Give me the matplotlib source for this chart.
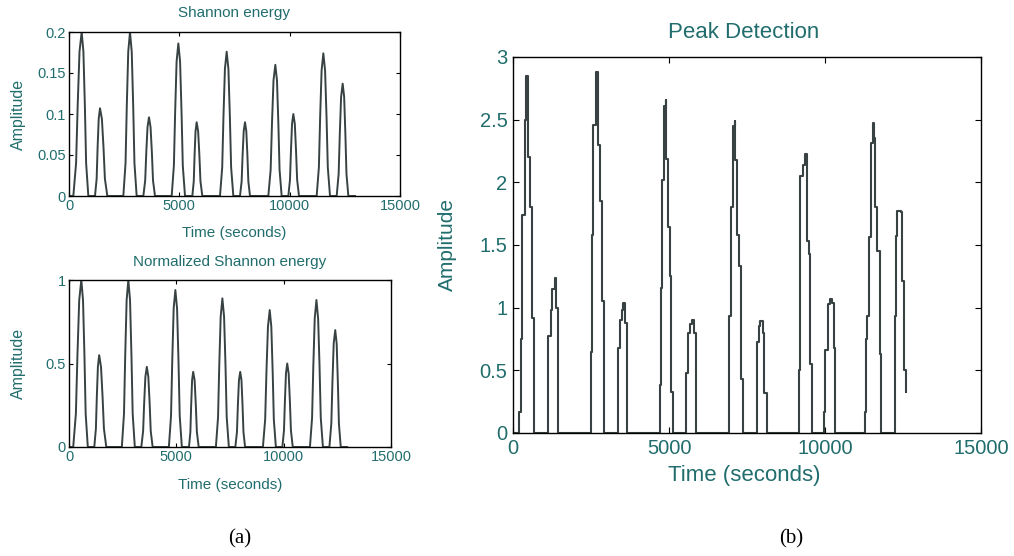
import matplotlib
matplotlib.use("Agg")
import matplotlib.pyplot as plt
from matplotlib.ticker import FormatStrFormatter

# Shannon energy envelope (left panels), one row per heart sound pulse
shannon_t = [0,
             196, 321, 393, 476, 574, 653, 719, 776, 876,
             1178, 1253, 1296, 1346, 1405, 1491, 1564, 1627, 1737,
             2462, 2562, 2619, 2685, 2764, 2843, 2909, 2966, 3066,
             3369, 3453, 3502, 3558, 3625, 3696, 3756, 3807, 3897,
             4653, 4753, 4810, 4876, 4955, 5034, 5100, 5157, 5257,
             5589, 5654, 5691, 5734, 5785, 5852, 5908, 5957, 6042,
             6843, 6943, 7000, 7066, 7145, 7224, 7290, 7347, 7447,
             7749, 7824, 7867, 7917, 7976, 8035, 8084, 8127, 8202,
             9033, 9138, 9198, 9268, 9350, 9425, 9488, 9542, 9637,
             9940, 10015, 10058, 10107, 10166, 10233, 10289, 10338, 10423,
             11224, 11324, 11381, 11447, 11526, 11605, 11671, 11728, 11828,
             12130, 12220, 12271, 12331, 12402, 12469, 12525, 12574, 12659,
             12961]
shannon_v = [0,
             0, .040, .110, .176, .200, .176, .110, .040, 0,
             0, .021, .059, .094, .107, .094, .059, .021, 0,
             0, .040, .110, .176, .200, .176, .110, .040, 0,
             0, .019, .053, .084, .096, .084, .053, .019, 0,
             0, .037, .102, .164, .186, .164, .102, .037, 0,
             0, .018, .050, .079, .090, .079, .050, .018, 0,
             0, .035, .097, .155, .176, .155, .097, .035, 0,
             0, .018, .050, .079, .090, .079, .050, .018, 0,
             0, .032, .088, .141, .160, .141, .088, .032, 0,
             0, .020, .055, .088, .100, .088, .055, .020, 0,
             0, .035, .096, .153, .174, .153, .096, .035, 0,
             0, .027, .075, .121, .137, .121, .075, .027, 0,
             0]
norm_v = [0,
          0, .20, .55, .88, 1.0, .88, .55, .20, 0,
          0, .11, .30, .48, .55, .48, .30, .11, 0,
          0, .20, .55, .88, 1.0, .88, .55, .20, 0,
          0, .096, .264, .42, .48, .42, .264, .096, 0,
          0, .188, .517, .83, .94, .83, .517, .188, 0,
          0, .09, .25, .40, .45, .40, .25, .09, 0,
          0, .178, .49, .78, .89, .78, .49, .178, 0,
          0, .09, .25, .40, .45, .40, .25, .09, 0,
          0, .164, .45, .72, .82, .72, .45, .164, 0,
          0, .10, .275, .44, .50, .44, .275, .10, 0,
          0, .176, .484, .77, .88, .77, .484, .176, 0,
          0, .14, .385, .62, .70, .62, .385, .14, 0,
          0]

# Peak detection staircase (right panel), value holds until the next time
peak_t = [0,
          192, 246, 299, 374, 427, 491, 544, 598, 673,
          1132, 1206, 1260, 1334, 1388, 1452,
          2487, 2520, 2573, 2648, 2722, 2786, 2861, 2914,
          3363, 3416, 3480, 3534, 3587, 3662,
          4697, 4730, 4761, 4836, 4890, 4911, 4964, 5018, 5050, 5124,
          5551, 5615, 5669, 5744, 5797, 5872,
          6939, 6993, 7046, 7100, 7131, 7185, 7238, 7323, 7366,
          7825, 7879, 7932, 8017, 8060, 8146,
          9160, 9190, 9213, 9299, 9373, 9427, 9480, 9533, 9587,
          9960, 10014, 10088, 10152, 10220, 10281, 10334,
          11274, 11320, 11348, 11423, 11476, 11530, 11562, 11615, 11669, 11754, 11800,
          12234, 12280, 12309, 12440, 12469, 12523, 12597]
peak_v = [0,
          .17, .75, 1.74, 2.5, 2.85, 2.2, 1.8, .92, 0,
          .77, .98, 1.15, 1.24, 1.0, 0,
          .65, 1.58, 2.46, 2.88, 2.3, 1.85, 1.05, 0,
          .68, .90, .98, 1.04, .88, 0,
          .38, 1.16, 2.02, 2.61, 2.66, 2.19, 1.64, 1.25, .33, 0,
          .48, .80, .87, .90, .80, 0,
          .93, 1.8, 2.45, 2.49, 2.18, 1.58, 1.33, .43, 0,
          .73, .85, .89, .80, .32, 0,
          .50, 1.36, 2.05, 2.14, 2.23, 1.53, 1.43, .55, 0,
          .17, .66, 1.03, 1.07, 1.04, .68, 0,
          .17, .75, .93, 1.56, 2.31, 2.47, 2.35, 1.8, 1.45, .63, 0,
          .93, 1.57, 1.77, 1.76, 1.21, .50, .33]

x_ticks = [0, 5000, 10000, 15000]

W, H = 1014, 556
TXT = '#216d6d'
LINE = '#384242'
plt.rcParams['font.family'] = ['Liberation Sans', 'DejaVu Sans']

fig = plt.figure(figsize=(W / 100, H / 100), dpi=100)


def box(x0, y0, x1, y1):
    return [x0 / W, 1 - y1 / H, (x1 - x0) / W, (y1 - y0) / H]


def label(x, y, s, size, rot=0, color=TXT, **kw):
    fig.text(x / W, 1 - y / H, s, ha='center', va='center', fontsize=size,
             rotation=rot, color=color, **kw)


def style(ax, size, ylim, yticks, lpad, tlen):
    ax.set_xlim(0, 15000)
    ax.set_ylim(*ylim)
    ax.set_xticks(x_ticks)
    ax.set_yticks(yticks)
    ax.xaxis.set_major_formatter(FormatStrFormatter('%g'))
    ax.yaxis.set_major_formatter(FormatStrFormatter('%g'))
    ax.tick_params(direction='in', top=True, right=True, length=tlen,
                   width=0.8, labelsize=size, labelcolor=TXT, pad=lpad)
    for s in ax.spines.values():
        s.set_linewidth(1.0)


ax1 = fig.add_axes(box(69, 32, 400, 196))
ax1.plot(shannon_t, shannon_v, color=LINE, lw=1.4)
style(ax1, 10.5, (0, 0.2), [0, 0.05, 0.1, 0.15, 0.2], 2.5, 3)
label(234, 13, 'Shannon energy', 11)
label(234, 233, 'Time (seconds)', 11)
label(18, 114, 'Amplitude', 11.5, rot=90)

ax2 = fig.add_axes(box(69, 280, 391, 447))
ax2.plot(shannon_t, norm_v, color=LINE, lw=1.4)
style(ax2, 10.5, (0, 1), [0, 0.5, 1], 2.5, 3)
label(230, 262, 'Normalized Shannon energy', 11)
label(230, 485, 'Time (seconds)', 11)
label(18, 363, 'Amplitude', 11.5, rot=90)

ax3 = fig.add_axes(box(513, 57, 981, 433))
ax3.plot(peak_t, peak_v, color=LINE, lw=1.5, drawstyle='steps-post')
style(ax3, 14.5, (0, 3), [0, 0.5, 1, 1.5, 2, 2.5, 3], 4, 4)
label(744, 33, 'Peak Detection', 16)
label(744, 475, 'Time (seconds)', 16)
label(447, 245, 'Amplitude', 15, rot=90)

label(240, 539, '(a)', 15, color='black', family='Liberation Serif')
label(791, 539, '(b)', 15, color='black', family='Liberation Serif')

fig.savefig('out.png', dpi=100)
